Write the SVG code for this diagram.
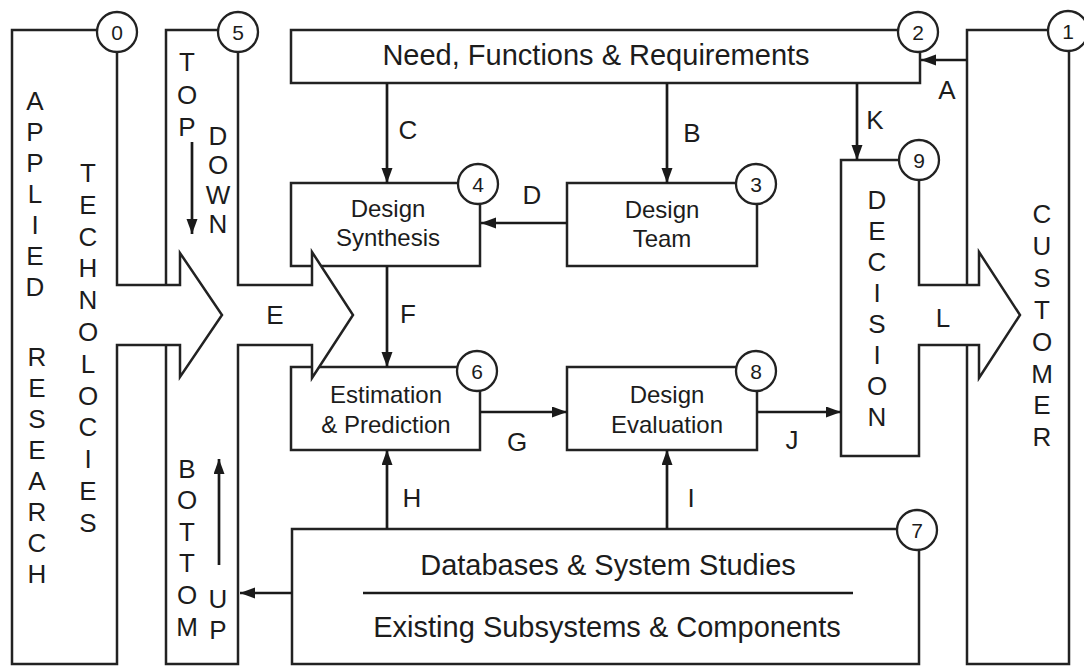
<svg xmlns="http://www.w3.org/2000/svg" width="1084" height="666" viewBox="0 0 1084 666">
<defs>
<style>
.box{fill:#fff;stroke:#222;stroke-width:2.5}
.num{fill:#fff;stroke:#222;stroke-width:2.3}
.ln{fill:none;stroke:#1a1a1a;stroke-width:2.7}
text{font-family:"Liberation Sans",Arial,Helvetica,sans-serif;fill:#1c1c1c}
.t24{font-size:24px;text-anchor:middle}
.t29{font-size:29px;text-anchor:middle}
.lab{font-size:26px;text-anchor:middle}
.v{font-size:26px;text-anchor:middle}
.n{font-size:21px;text-anchor:middle}
</style>
<marker id="ah" markerUnits="userSpaceOnUse" markerWidth="16" markerHeight="12" refX="15" refY="5.5" orient="auto">
<path d="M0,0 L15,5.5 L0,11 Z" fill="#1a1a1a"/>
</marker>
</defs>
<rect width="1084" height="666" fill="#fff"/>

<g id="node-1">
<rect class="box" x="967" y="30" width="102" height="634"/>
<g class="v">
<text x="1042" y="223">C</text><text x="1042" y="255">U</text><text x="1042" y="287">S</text><text x="1042" y="319">T</text>
<text x="1042" y="351">O</text><text x="1042" y="383">M</text><text x="1042" y="414">E</text><text x="1042" y="446">R</text>
</g>
<circle class="num" cx="1068" cy="31" r="20"/><text class="n" x="1068" y="39">1</text>
</g>

<g id="node-2">
<rect class="box" x="291" y="30" width="629" height="53"/>
<text class="t29" x="596" y="65">Need, Functions &amp; Requirements</text>
<circle class="num" cx="918" cy="32" r="20"/><text class="n" x="918" y="40">2</text>
</g>

<g id="node-3">
<rect class="box" x="567" y="183" width="190" height="83"/>
<text class="t24" x="662" y="218">Design</text>
<text class="t24" x="662" y="247">Team</text>
<circle class="num" cx="756" cy="184" r="20"/><text class="n" x="756" y="192">3</text>
</g>

<g id="node-4">
<rect class="box" x="291" y="183" width="189" height="83"/>
<text class="t24" x="388" y="217">Design</text>
<text class="t24" x="388" y="246">Synthesis</text>
<circle class="num" cx="478" cy="184" r="20"/><text class="n" x="478" y="192">4</text>
</g>

<g id="node-6">
<rect class="box" x="291" y="367" width="189" height="83"/>
<text class="t24" x="386" y="403">Estimation</text>
<text class="t24" x="386" y="433">&amp; Prediction</text>
<circle class="num" cx="477" cy="371" r="20"/><text class="n" x="477" y="379">6</text>
</g>

<g id="node-8">
<rect class="box" x="567" y="367" width="190" height="83"/>
<text class="t24" x="667" y="403">Design</text>
<text class="t24" x="667" y="433">Evaluation</text>
<circle class="num" cx="756" cy="371" r="20"/><text class="n" x="756" y="379">8</text>
</g>

<g id="node-7">
<rect class="box" x="292" y="529" width="627" height="135"/>
<text class="t29" x="608" y="575">Databases &amp; System Studies</text>
<line class="ln" x1="363" y1="593" x2="853" y2="593" style="stroke-width:2.3"/>
<text class="t29" x="607" y="637">Existing Subsystems &amp; Components</text>
<circle class="num" cx="917" cy="530" r="20"/><text class="n" x="917" y="538">7</text>
</g>

<g id="node-9">
<path class="box" d="M841,160 H919 V285 H979 V252 L1020,315 L979,378 V345 H919 V456 H841 Z"/>
<g class="v">
<text x="877" y="209">D</text><text x="877" y="240">E</text><text x="877" y="271">C</text><text x="877" y="302">I</text>
<text x="877" y="333">S</text><text x="877" y="364">I</text><text x="877" y="395">O</text><text x="877" y="426">N</text>
</g>
<circle class="num" cx="919" cy="160" r="20"/><text class="n" x="919" y="168">9</text>
</g>

<g id="node-5">
<path class="box" d="M166,30 H238 V285 H312 V252 L353,315 L312,378 V345 H238 V664 H166 Z"/>
<g class="v">
<text x="187" y="71">T</text><text x="187" y="104">O</text><text x="187" y="136">P</text>
<text x="218" y="145">D</text><text x="218" y="174">O</text><text x="218" y="204">W</text><text x="218" y="233">N</text>
<text x="187" y="478">B</text><text x="187" y="509">O</text><text x="187" y="541">T</text><text x="187" y="572">T</text><text x="187" y="604">O</text><text x="187" y="636">M</text>
<text x="218" y="608">U</text><text x="218" y="639">P</text>
</g>
<line class="ln" x1="192" y1="142" x2="192" y2="234" marker-end="url(#ah)"/>
<line class="ln" x1="219" y1="565" x2="219" y2="459" marker-end="url(#ah)"/>
<circle class="num" cx="238" cy="32" r="20"/><text class="n" x="238" y="40">5</text>
</g>

<g id="node-0">
<path class="box" d="M12,30 H117 V285 H180 V253 L222,315 L180,377 V345 H117 V664 H12 Z"/>
<g class="v">
<text x="35" y="110">A</text><text x="35" y="141">P</text><text x="35" y="172">P</text><text x="35" y="203">L</text>
<text x="35" y="234">I</text><text x="35" y="265">E</text><text x="35" y="296">D</text>
<text x="37" y="366">R</text><text x="37" y="397">E</text><text x="37" y="428">S</text><text x="37" y="459">E</text>
<text x="37" y="490">A</text><text x="37" y="521">R</text><text x="37" y="552">C</text><text x="37" y="583">H</text>
<text x="88" y="182">T</text><text x="88" y="214">E</text><text x="88" y="246">C</text><text x="88" y="277">H</text>
<text x="88" y="309">N</text><text x="88" y="341">O</text><text x="88" y="373">L</text><text x="88" y="405">O</text>
<text x="88" y="436">C</text><text x="88" y="468">I</text><text x="88" y="500">E</text><text x="88" y="532">S</text>
</g>
<circle class="num" cx="117" cy="32" r="20"/><text class="n" x="117" y="40">0</text>
</g>

<g id="connectors">
<line class="ln" x1="967" y1="60" x2="921" y2="60" marker-end="url(#ah)"/>
<line class="ln" x1="667" y1="83" x2="667" y2="183" marker-end="url(#ah)"/>
<line class="ln" x1="387" y1="83" x2="387" y2="183" marker-end="url(#ah)"/>
<line class="ln" x1="567" y1="223" x2="481" y2="223" marker-end="url(#ah)"/>
<line class="ln" x1="387" y1="266" x2="387" y2="367" marker-end="url(#ah)"/>
<line class="ln" x1="480" y1="412" x2="567" y2="412" marker-end="url(#ah)"/>
<line class="ln" x1="757" y1="412" x2="841" y2="412" marker-end="url(#ah)"/>
<line class="ln" x1="387" y1="529" x2="387" y2="450" marker-end="url(#ah)"/>
<line class="ln" x1="667" y1="529" x2="667" y2="450" marker-end="url(#ah)"/>
<line class="ln" x1="857" y1="83" x2="857" y2="160" marker-end="url(#ah)"/>
<line class="ln" x1="292" y1="593" x2="240" y2="593" marker-end="url(#ah)"/>
</g>

<g id="labels" class="lab">
<text x="947" y="99">A</text>
<text x="692" y="142">B</text>
<text x="408" y="139">C</text>
<text x="532" y="204">D</text>
<text x="275" y="324">E</text>
<text x="408" y="323">F</text>
<text x="517" y="451">G</text>
<text x="412" y="507">H</text>
<text x="691" y="507">I</text>
<text x="792" y="449">J</text>
<text x="875" y="129">K</text>
<text x="943" y="327">L</text>
</g>
</svg>
